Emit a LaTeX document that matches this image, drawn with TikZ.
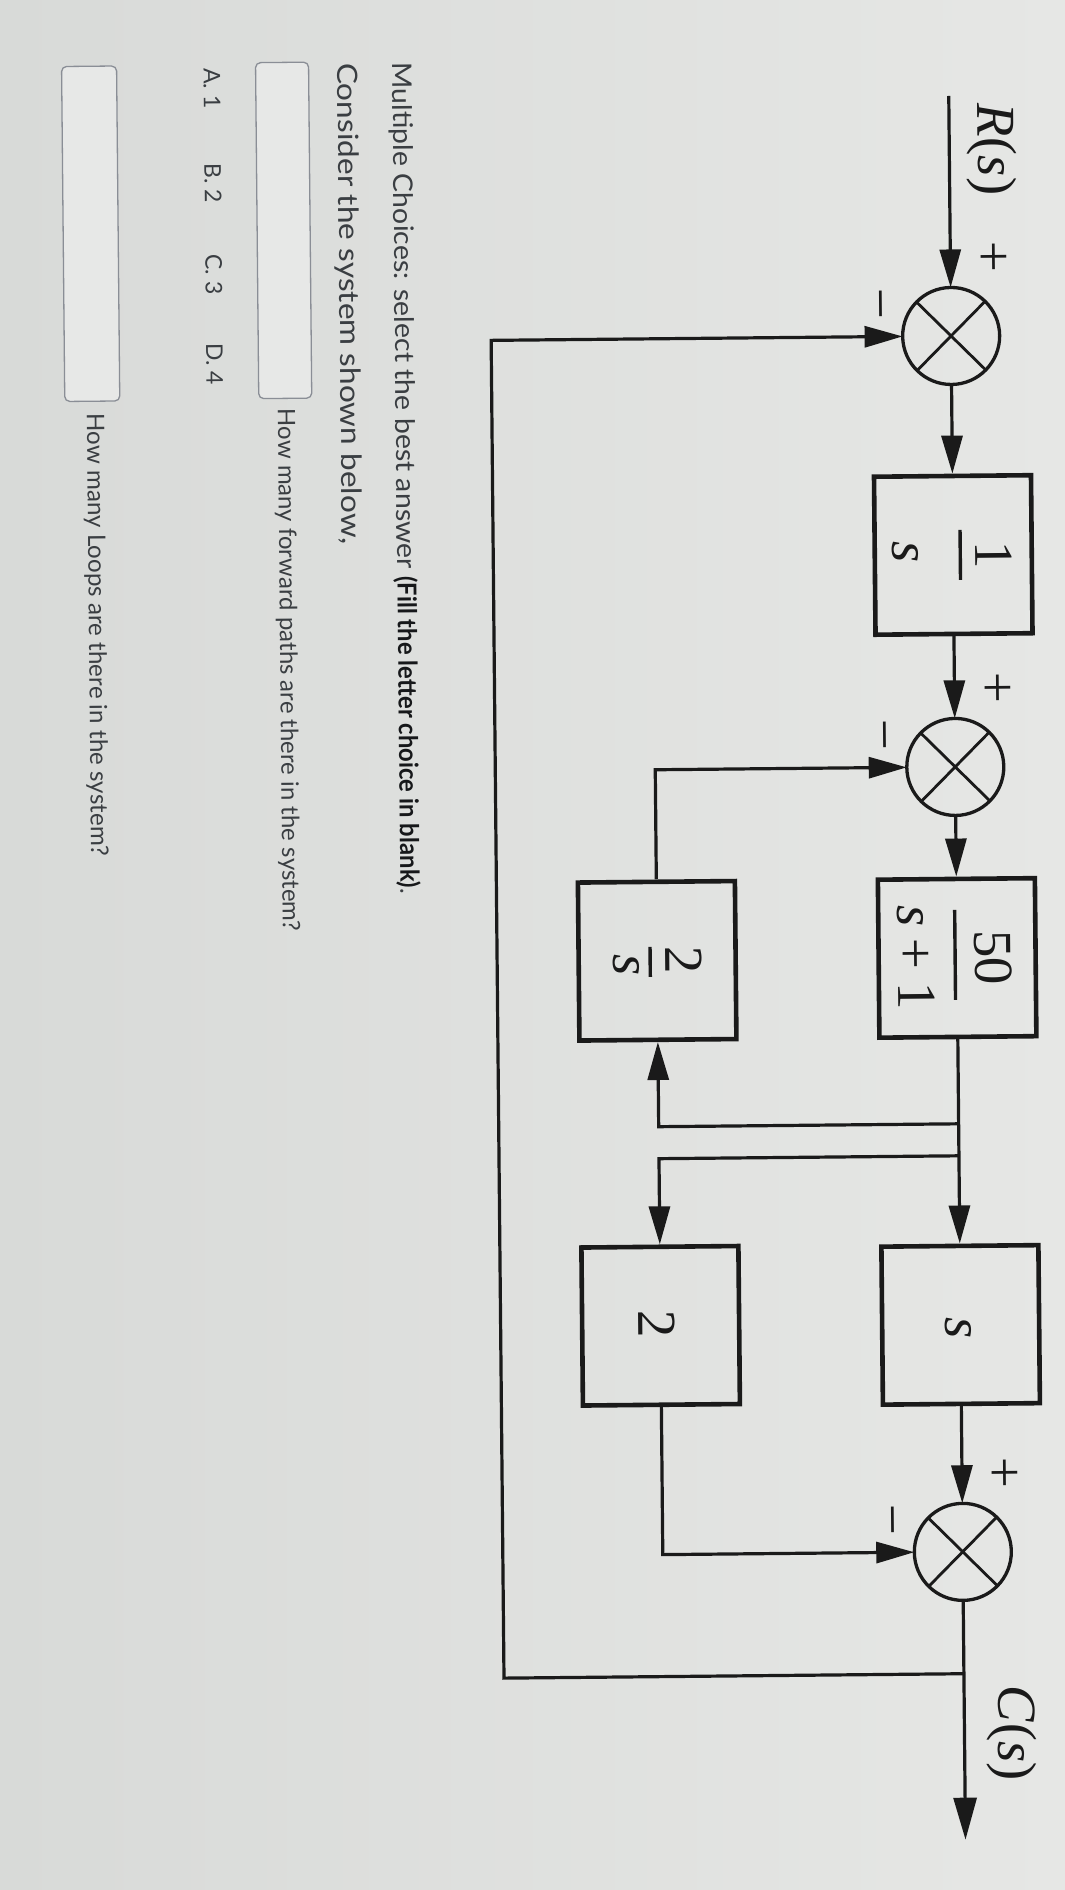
\documentclass[tikz,border=0pt]{standalone}
\usepackage{fontspec}
\setmainfont{Liberation Serif}
\newfontfamily\qfont{Lato}
\usetikzlibrary{arrows.meta}
\definecolor{bgA}{RGB}{216,218,216}
\definecolor{bgB}{RGB}{230,231,229}
\definecolor{ink}{RGB}{26,26,26}
\definecolor{qtext}{RGB}{58,62,66}
\definecolor{qbold}{RGB}{22,24,26}
\definecolor{qbox}{RGB}{138,142,150}
\definecolor{qfill}{RGB}{231,232,231}
\tikzset{
  ln/.style={draw=ink, line width=3.2pt},
  arr/.style={ln, -{Triangle[length=38pt,width=21pt]}},
  blk/.style={draw=ink, line width=4.6pt, rectangle, inner sep=0pt, minimum width=157pt, minimum height=158pt},
  sumj/.style={draw=ink, line width=3.3pt, circle, inner sep=0pt, outer sep=0pt, minimum size=97pt},
  crs/.style={draw=ink, line width=2.8pt},
  dtxt/.style={font=\fontsize{55}{60}\selectfont, text=ink, rotate=-90, inner sep=0pt, anchor=base},
  fbar/.style={draw=ink, line width=3.4pt},
  qtx/.style={text=qtext, rotate=-90, inner sep=0pt, anchor=base west},
  ansbox/.style={draw=qbox, line width=1.3pt, rounded corners=5pt, fill=qfill}
}
\begin{document}
\begin{tikzpicture}[x=1pt,y=-1pt]
\useasboundingbox (0,0) rectangle (1065,1890);
\shade[left color=bgA, right color=bgB] (0,0) rectangle (1065,1890);
\begin{scope}[rotate around={0.55:(532,945)}, transform shape]
% ---------- question text ----------
\node[qtx, font=\qfont\fontsize{27}{30}\selectfont] (q1) at (401,61)
  {\scalebox{1.055}[1]{Multiple Choices: select the best answer\ }\scalebox{0.92}[1]{\fontsize{26}{30}\selectfont\color{qbold}\bfseries(Fill the letter choice in blank)}\scalebox{0.92}[1]{\fontsize{26}{30}\selectfont.}};
\node[qtx, font=\qfont\fontsize{28}{30}\selectfont] (q2) at (346,61) {\scalebox{1.13}[1]{Consider the system shown below,}};
\draw[ansbox] (264,60) rectangle (317,396);
\node[qtx, font=\qfont\fontsize{24}{30}\selectfont] (q3) at (283,406) {How many forward paths are there in the system?};
\node[qtx, font=\qfont\fontsize{23}{30}\selectfont] (oa) at (212,65) {A. 1};
\node[qtx, font=\qfont\fontsize{23}{30}\selectfont] (ob) at (212,160) {B. 2};
\node[qtx, font=\qfont\fontsize{23}{30}\selectfont] (oc) at (212,251) {C. 3};
\node[qtx, font=\qfont\fontsize{23}{30}\selectfont] (od) at (212,340) {D. 4};
\draw[ansbox] (70,62) rectangle (125,397);
\node[qtx, font=\qfont\fontsize{24.2}{30}\selectfont] (q4) at (92,409) {How many Loops are there in the system?};
% ---------- diagram ----------
\coordinate (rin) at (957,100);
\node[sumj] (s1) at (957,340) {};
\node[blk] (b1) at (957,559) {};
\node[sumj] (s2) at (957,771) {};
\node[blk] (b50) at (957,962) {};
\node[blk] (b2s) at (657,962) {};
\node[blk] (bs) at (957,1329) {};
\node[blk] (b2) at (657,1327) {};
\node[sumj] (s3) at (957,1556) {};
\coordinate (cout) at (957,1844);
\coordinate (br1) at (957,1128);
\coordinate (c1) at (657,1128);
\coordinate (br2) at (957,1160);
\coordinate (c2) at (657,1160);
\coordinate (c3) at (657,771);
\coordinate (c4) at (657,1556);
\coordinate (fb) at (957,1678);
\coordinate (fbl) at (497,1678);
\coordinate (fbt) at (497,340);
\foreach \s in {s1,s2,s3}{
  \draw[crs] (\s.45) -- (\s.225) (\s.135) -- (\s.315);
}
% connectors
\draw[arr] (rin) -- (s1.north);
\draw[arr] (s1.south) -- (b1.north);
\draw[arr] (b1.south) -- (s2.north);
\draw[arr] (s2.south) -- (b50.north);
\draw[arr] (b50.south) -- (bs.north);
\draw[arr] (br1) -- (c1) -- (b2s.south);
\draw[arr] (b2s.north) -- (c3) -- (s2.west);
\draw[arr] (br2) -- (c2) -- (b2.north);
\draw[arr] (bs.south) -- (s3.north);
\draw[arr] (b2.south) -- (c4) -- (s3.west);
\draw[ln, -{Triangle[length=42pt,width=23pt]}] (s3.south) -- (cout);
\draw[arr] (fb) -- (fbl) -- (fbt) -- (s1.west);
% labels
\node[dtxt] (lr) at (986,154) {\textit{R}(\textit{s})};
\node[dtxt] (lc) at (991,1738) {\textit{C}(\textit{s})};
\foreach \s/\y in {p1/340,p2/771,p3/1556}{
  \node[dtxt] (\s) at (982,\y-79) {+};
}
\foreach \s/\y in {m1/340,m2/771,m3/1556}{
  \node[dtxt] (\s) at (869,\y-33) {−};
}
% block contents
\node[dtxt] (n1) at (979,559) {1};
\draw[fbar] (964,534) -- (964,584);
\node[dtxt] (d1) at (896,556) {\textit{s}};
\node[dtxt] (n50) at (975,962) {50};
\draw[fbar] (955,914) -- (955,1004);
\node[dtxt] (d50) at (898,961) {\textit{s}\hspace{0.22em}+\hspace{0.22em}1};
\node[dtxt] (n2s) at (665,962) {2};
\draw[fbar] (650,948) -- (650,978);
\node[dtxt] (d2s) at (613,966) {\textit{s}};
\node[dtxt] (ts) at (942,1332) {\textit{s}};
\node[dtxt] (t2) at (635,1325) {2};
\end{scope}
\end{tikzpicture}
\end{document}
